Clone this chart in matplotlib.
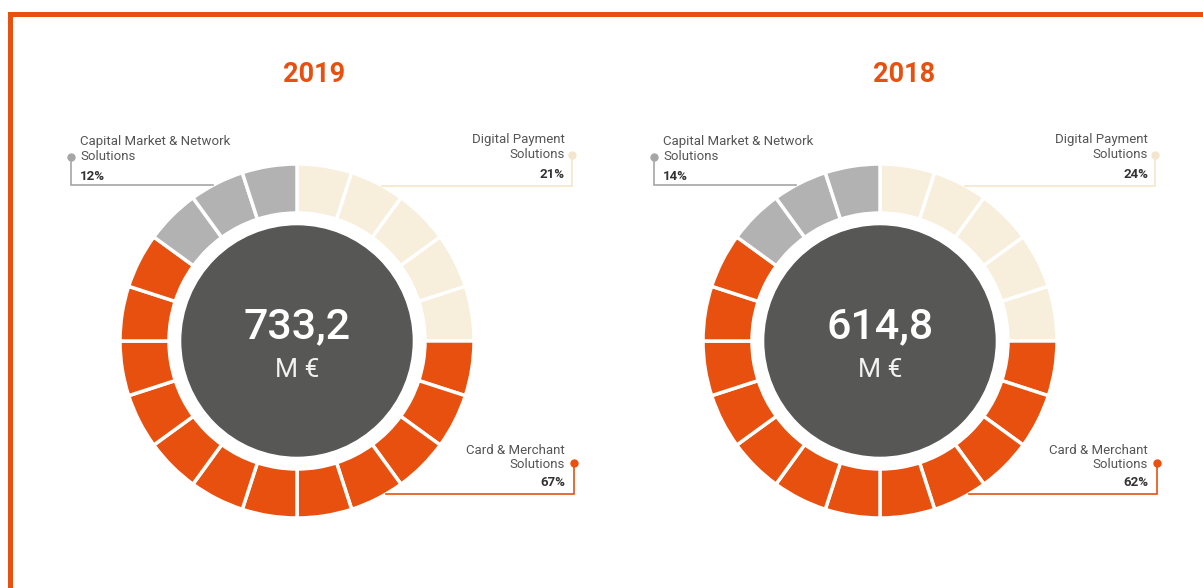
import matplotlib
matplotlib.use('Agg')
import matplotlib.pyplot as plt
import numpy as np
from matplotlib.patches import Circle, Rectangle

# data
years = ['2019', '2018']
totals = ['733,2', '614,8']
unit = 'M €'
categories = ['Digital Payment\nSolutions', 'Card & Merchant\nSolutions',
              'Capital Market & Network\nSolutions']
shares = {'2019': [21, 67, 12], '2018': [24, 62, 14]}
segments = [5, 12, 3]  # ring blocks per category, clockwise from 12 o'clock

colors = ['#F7EEDB', '#E8500F', '#B2B2B2']
line_colors = ['#F3E6CC', '#E8500F', '#A6A6A6']
orange = '#E8500F'
core = '#575756'

plt.rcParams['font.family'] = ['Roboto', 'DejaVu Sans']

W, H = 1203, 588
fig = plt.figure(figsize=(W / 100, H / 100), dpi=100)
ax = fig.add_axes([0, 0, 1, 1])

def Y(y):  # image row -> axes y
    return H - y

centers_x = [297, 880]
title_x = [314, 904]
cy_img = 341
R_out, R_in, R_core = 177, 128, 115

for i, year in enumerate(years):
    cx, cy = centers_x[i], Y(cy_img)
    seg_colors = [c for c, n in zip(colors, segments) for _ in range(n)]
    ax.pie(np.ones(len(seg_colors)), colors=seg_colors, startangle=90,
           counterclock=False, center=(cx, cy), radius=R_out,
           wedgeprops=dict(width=R_out - R_in, edgecolor='white', linewidth=2.5))
    ax.add_patch(Circle((cx, cy), R_core, color=core, zorder=3))
    ax.text(cx, Y(327), totals[i], ha='center', va='center', color='white',
            fontsize=31, fontweight='medium', zorder=4)
    ax.text(cx, Y(370), unit, ha='center', va='center', color='#F2F2F2',
            fontsize=19, fontweight='normal', zorder=4)
    ax.text(title_x[i], Y(75), year, ha='center', va='center', color=orange,
            fontsize=19.5, fontweight='bold')

    pct = shares[year]
    # leader lines: (dot x, dot y, corner y, side)
    leaders = [(cx + 275, 155, 186, 1), (cx + 277, 463, 494, 1), (cx - 226, 157, 185, -1)]
    for k, (dx, dy, ly, side) in enumerate(leaders):
        edge = cx + side * np.sqrt(R_out ** 2 - (ly - cy_img) ** 2)
        ax.plot([dx, dx, edge], [Y(dy), Y(ly), Y(ly)], color=line_colors[k], lw=1.2,
                solid_joinstyle='miter', zorder=1)
        ax.plot(dx, Y(dy), 'o', color=line_colors[k], ms=5, zorder=2)

    # labels
    lines = categories[0].split('\n')
    for j, ty in enumerate([140, 155]):
        ax.text(cx + 268, Y(ty), lines[j], ha='right', va='center', color='#555555', fontsize=9.5)
    ax.text(cx + 268, Y(175), f'{pct[0]}%', ha='right', va='center', color='#333333',
            fontsize=9.5, fontweight='bold')
    lines = categories[1].split('\n')
    for j, ty in enumerate([450, 464]):
        ax.text(cx + 268, Y(ty), lines[j], ha='right', va='center', color='#555555', fontsize=9.5)
    ax.text(cx + 268, Y(483), f'{pct[1]}%', ha='right', va='center', color='#333333',
            fontsize=9.5, fontweight='bold')
    lines = categories[2].split('\n')
    for j, ty in enumerate([142, 157]):
        ax.text(cx - 217, Y(ty), lines[j], ha='left', va='center', color='#555555', fontsize=9.5)
    ax.text(cx - 217, Y(176), f'{pct[2]}%', ha='left', va='center', color='#333333',
            fontsize=9.5, fontweight='bold')

# orange frame (left and top)
ax.add_patch(Rectangle((8, 0), 5, Y(12), color=orange, lw=0))
ax.add_patch(Rectangle((8, Y(17)), W, 5, color=orange, lw=0))

ax.set_xlim(0, W)
ax.set_ylim(0, H)
ax.set_aspect('equal')
ax.axis('off')

fig.savefig('out.png', dpi=100, facecolor='white')
